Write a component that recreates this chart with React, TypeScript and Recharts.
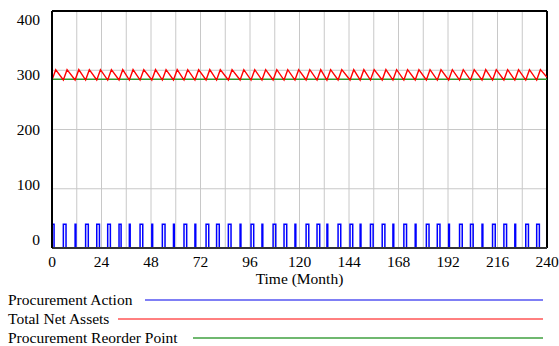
import React from 'react';
import { ComposedChart, Line, XAxis, YAxis, CartesianGrid, ReferenceLine } from 'recharts';

const xTicks = [0, 12, 24, 36, 48, 60, 72, 84, 96, 108, 120, 132, 144, 156, 168, 180, 192, 204, 216, 228, 240];
const xLabelTicks = [0, 24, 48, 72, 96, 120, 144, 168, 192, 216, 240];
const yTicks = [0, 100, 200, 300, 400];

// Procurement Action pulses (month at which each order fires, and its width in months)
const pulseStarts = [
  0, 5.5, 11.2, 16.3, 21.7, 27, 32.5, 37.5, 42.7, 48.4,
  53.5, 58.9, 64, 69.3, 74.7, 79.8, 85.5, 91.2, 96.5, 101.8,
  107.2, 112.5, 117.8, 123.2, 128.5, 133.3, 138.7, 144.5, 149.4, 154.4,
  160.1, 165.3, 170.6, 176.1, 181.5, 186.8, 192.3, 197.6, 202.9, 208.5,
  213.6, 219.1, 224.4, 229.7, 235.0,
];
const pulseWidths = [
  1.0, 1.3, 0.4, 1.3, 1.3, 1.3, 1.0, 0.4, 1.3, 0.4,
  1.3, 0.4, 1.3, 0.4, 1.3, 1.3, 1.3, 0.4, 1.3, 0.4,
  1.3, 1.3, 0.4, 1.3, 1.3, 0.4, 1.3, 1.3, 0.4, 1.3,
  1.3, 0.4, 1.3, 0.4, 1.3, 1.3, 0.4, 1.3, 1.3, 0.4,
  1.3, 1.3, 0.4, 1.3, 1.3,
];
const pulseHeight = 40;

// Total Net Assets saw-tooth
const assetTroughTimes = [
  0, 5.5, 11.2, 16.3, 21.7, 27, 32.5, 37.5, 42.7, 48.4,
  53.5, 58.9, 64, 69.3, 74.7, 79.8, 85.5, 91.2, 96.5, 101.8,
  107.2, 112.5, 117.8, 123.2, 128.5, 133.3, 138.7, 144.5, 149.4, 154.4,
  160.1, 165.3, 170.6, 176.1, 181.5, 186.8, 192.3, 197.6, 202.9, 208.5,
  213.6, 219.1, 224.4, 229.7, 235.0,
];
const assetPeakTimes = [
  1.8, 7.3, 13.0, 18.1, 23.5, 28.8, 34.3, 39.3, 44.5, 50.2,
  55.3, 60.7, 65.8, 71.1, 76.5, 81.6, 87.3, 93.0, 98.3, 103.6,
  109.0, 114.3, 119.6, 125.0, 130.3, 135.1, 140.5, 146.3, 151.2, 156.2,
  161.9, 167.1, 172.4, 177.9, 183.3, 188.6, 194.1, 199.4, 204.7, 210.3,
  215.4, 220.9, 226.2, 231.5, 236.8,
];
const assetLow = 283.5;
const assetHigh = 301;
const assetEnd = { t: 240, v: 288 };

// Procurement Reorder Point
const reorderTimes = [0, 240];
const reorderValues = [285, 285];

const legendItems = ['Procurement Action', 'Total Net Assets', 'Procurement Reorder Point'];

const procurementData = (() => {
  const out: { t: number; v: number }[] = [];
  pulseStarts.forEach((s, i) => {
    const w = pulseWidths[i];
    out.push({ t: s, v: 0 }, { t: s, v: pulseHeight }, { t: s + w, v: pulseHeight }, { t: s + w, v: 0 });
  });
  out.push({ t: 240, v: 0 });
  return out;
})();

const assetData = (() => {
  const out: { t: number; v: number }[] = [];
  assetTroughTimes.forEach((tr, i) => {
    out.push({ t: tr, v: assetLow }, { t: assetPeakTimes[i], v: assetHigh });
  });
  out.push(assetEnd);
  return out;
})();

const reorderData = reorderTimes.map((t, i) => ({ t, v: reorderValues[i] }));

const FONT = '"Liberation Serif", "Times New Roman", Times, serif';
const textStyle: React.CSSProperties = { fontFamily: FONT, fontSize: 15.5, fill: '#000' };

const XTick = (props: any) => {
  const { x, y, payload } = props;
  if (!xLabelTicks.includes(payload.value)) return <g />;
  return (
    <text x={x} y={y + 19} textAnchor="middle" style={textStyle}>
      {payload.value}
    </text>
  );
};

const YTick = (props: any) => {
  const { y, payload } = props;
  const v = payload.value as number;
  const dy = -8.5 + 17 * (v / 400);
  return (
    <text x={40} y={y + dy + 5} textAnchor="end" style={textStyle}>
      {v}
    </text>
  );
};

export default function App() {
  return (
    <div style={{ position: 'absolute', left: 0, top: 0, width: 559, height: 346, background: '#fff', fontFamily: FONT }}>
      <ComposedChart width={559} height={346} margin={{ top: 11, right: 12, bottom: 58, left: 12 }}>
        <CartesianGrid stroke="#c8c8c8" strokeWidth={1} />
        <XAxis
          dataKey="t"
          type="number"
          domain={[0, 240]}
          ticks={xTicks}
          interval={0}
          height={40}
          tickSize={0}
          tickMargin={0}
          tickLine={false}
          axisLine={{ stroke: '#333', strokeWidth: 2 }}
          tick={XTick}
          allowDataOverflow
          label={{
            value: 'Time (Month)',
            position: 'insideBottom',
            offset: 4,
            style: textStyle,
          }}
        />
        <YAxis
          type="number"
          domain={[0, 400]}
          ticks={yTicks}
          interval={0}
          width={40}
          tickSize={0}
          tickMargin={0}
          tickLine={false}
          axisLine={{ stroke: '#000', strokeWidth: 2 }}
          tick={YTick}
          allowDataOverflow
        />
        <ReferenceLine y={400} stroke="#000" strokeWidth={2} />
        <ReferenceLine x={240} stroke="#000" strokeWidth={2} />
        <Line data={reorderData} dataKey="v" type="linear" stroke="#2f9a2f" strokeWidth={1.5} dot={false} isAnimationActive={false} />
        <Line data={assetData} dataKey="v" type="linear" stroke="#ff0000" strokeWidth={1.4} dot={false} isAnimationActive={false} />
        <Line data={procurementData} dataKey="v" type="linear" stroke="#0000ff" strokeWidth={1.5} dot={false} isAnimationActive={false} />
      </ComposedChart>
      <svg width={559} height={346} style={{ position: 'absolute', left: 0, top: 0, pointerEvents: 'none' }}>
        <text x={8} y={305} style={textStyle}>{legendItems[0]}</text>
        <line x1={145} x2={543} y1={300} y2={300} stroke="#7f7ff5" strokeWidth={2} />
        <text x={8} y={324} style={textStyle}>{legendItems[1]}</text>
        <line x1={118} x2={543} y1={319} y2={319} stroke="#ff0000" strokeWidth={1} />
        <text x={8} y={343} style={textStyle}>{legendItems[2]}</text>
        <line x1={193} x2={543} y1={338} y2={338} stroke="#6fb86f" strokeWidth={2} />
      </svg>
    </div>
  );
}
